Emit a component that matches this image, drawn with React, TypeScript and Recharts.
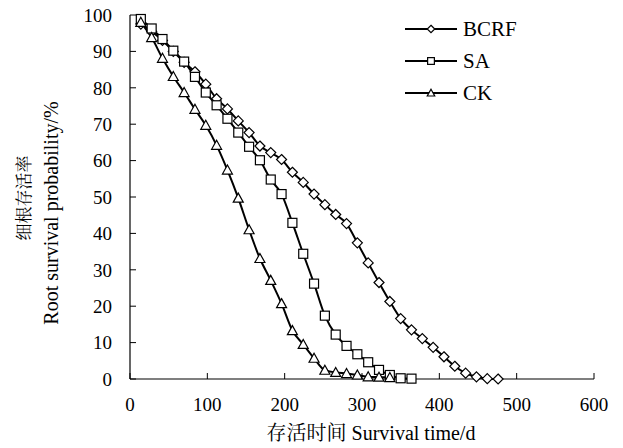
import React from 'react';
import { LineChart, Line, XAxis, YAxis, Label } from 'recharts';

const days = [14, 28, 42, 56, 70, 84, 98, 112, 126, 140, 154, 168, 182, 196, 210, 224, 238, 252, 266, 280, 294, 308, 322, 336, 350, 364, 378, 392, 406, 420, 434, 448, 462, 476];
const bcrf = [97.5, 95.5, 93, 90, 87, 84.4, 81, 77, 74.2, 70.9, 67.7, 64, 62.2, 60.3, 56.8, 54, 50.8, 47.9, 45.2, 42.7, 37.4, 31.9, 26.5, 21.3, 16.6, 13.5, 11.1, 8.7, 6.1, 3.5, 1.6, 0.6, 0.1, 0];
const sa = [98.9, 96.3, 93.4, 90.2, 87.2, 83, 78.7, 75.2, 71.5, 67.7, 63.8, 60.1, 54.8, 50.8, 42.9, 34.4, 26.2, 17.4, 12.2, 9.1, 6.8, 4.6, 2.5, 1.1, 0.2, 0.1];
const ck = [98, 93.8, 88.1, 83.1, 78.7, 74.1, 69.7, 64.2, 57.4, 49.7, 41, 33.1, 27.1, 20.7, 13.3, 9.5, 5.7, 2.4, 1.8, 1.5, 1.1, 0.6, 0.5, 0.4];
const xTicks = [0, 100, 200, 300, 400, 500, 600];
const yTicks = [0, 10, 20, 30, 40, 50, 60, 70, 80, 90, 100];
const seriesNames = ['BCRF', 'SA', 'CK'];

const data = days.map((d, i) => ({ day: d, BCRF: bcrf[i], SA: sa[i], CK: ck[i] }));

const FONT = "'Liberation Serif', 'Times New Roman', serif";
const CJK = "'Liberation Serif', 'Noto Serif CJK SC', 'Noto Sans CJK SC', serif";

const Marker = ({ kind, cx, cy, s = 1 }: any) => {
  if (cx == null || cy == null) return null;
  if (kind === 'BCRF') {
    const r = 5 * s;
    return <polygon points={`${cx},${cy - r} ${cx + r},${cy} ${cx},${cy + r} ${cx - r},${cy}`} fill="#fff" stroke="#000" strokeWidth={1.2} />;
  }
  if (kind === 'SA') {
    const h = 4.5 * s;
    return <rect x={cx - h} y={cy - h} width={2 * h} height={2 * h} fill="#fff" stroke="#000" strokeWidth={1.2} />;
  }
  const r = 5 * s;
  return <polygon points={`${cx},${cy - r} ${cx + r},${cy + r * 0.8} ${cx - r},${cy + r * 0.8}`} fill="#fff" stroke="#000" strokeWidth={1.2} />;
};

const makeDot = (kind: string) => (props: any) => {
  const { cx, cy, index, value } = props;
  if (value == null) return <g key={`${kind}-${index}`} />;
  return <g key={`${kind}-${index}`}><Marker kind={kind} cx={cx} cy={cy} /></g>;
};

const YTick = ({ x, y, payload }: any) => (
  <g>
    <line x1={x} x2={x + 6} y1={y} y2={y} stroke="#000" strokeWidth={1} />
    <text x={x - 18} y={y} dy="0.36em" textAnchor="end" fontFamily={FONT} fontSize={19} fill="#000">{payload.value}</text>
  </g>
);

const XTick = ({ x, y, payload }: any) => (
  <g>
    <line x1={x} x2={x} y1={y} y2={y - 6} stroke="#000" strokeWidth={1} />
    <text x={x} y={y + 32} textAnchor="middle" fontFamily={FONT} fontSize={19} fill="#000">{payload.value}</text>
  </g>
);

const LegendBox = () => (
  <div style={{ position: 'absolute', left: 405, top: 13 }}>
    {seriesNames.map((n) => (
      <div key={n} style={{ display: 'flex', alignItems: 'center', height: 32 }}>
        <svg width={54} height={14} style={{ display: 'block' }}>
          <line x1={0} x2={52} y1={7} y2={7} stroke="#000" strokeWidth={2} />
          <Marker kind={n} cx={26} cy={7} s={0.75} />
        </svg>
        <span style={{ fontFamily: FONT, fontSize: 21, color: '#000', marginLeft: 4, lineHeight: '21px' }}>{n}</span>
      </div>
    ))}
  </div>
);

export default function App() {
  return (
    <div style={{ position: 'absolute', left: 0, top: 0, width: 623, height: 448, background: '#fff' }}>
      <LineChart width={623} height={448} data={data} margin={{ top: 15, right: 29, bottom: 29, left: 70 }}>
        <XAxis dataKey="day" type="number" domain={[0, 600]} ticks={xTicks} tick={<XTick />} tickSize={0} tickMargin={0} height={40} axisLine={{ stroke: '#000', strokeWidth: 1.2 }} tickLine={false} interval={0}>
          <Label content={() => (
            <text x={371} y={440} textAnchor="middle" fontFamily={CJK} fontSize={20} fill="#000">存活时间 Survival time/d</text>
          )} />
        </XAxis>
        <YAxis type="number" domain={[0, 100]} ticks={yTicks} tick={<YTick />} tickSize={0} tickMargin={0} width={60} axisLine={{ stroke: '#000', strokeWidth: 1.2 }} tickLine={false} interval={0}>
          <Label content={() => (
            <g>
              <text x={24} y={198} transform="rotate(-90 24 198)" dy="0.36em" textAnchor="middle" fontFamily={CJK} fontSize={17} fill="#000">细根存活率</text>
              <text x={51} y={213} transform="rotate(-90 51 213)" dy="0.36em" textAnchor="middle" fontFamily={FONT} fontSize={20} fill="#000">Root survival probability/%</text>
            </g>
          )} />
        </YAxis>
        {seriesNames.map((n) => (
          <Line key={n} dataKey={n} type="monotone" stroke="#000" strokeWidth={2} dot={makeDot(n)} activeDot={false} isAnimationActive={false} legendType="none" />
        ))}
      </LineChart>
      <LegendBox />
    </div>
  );
}
